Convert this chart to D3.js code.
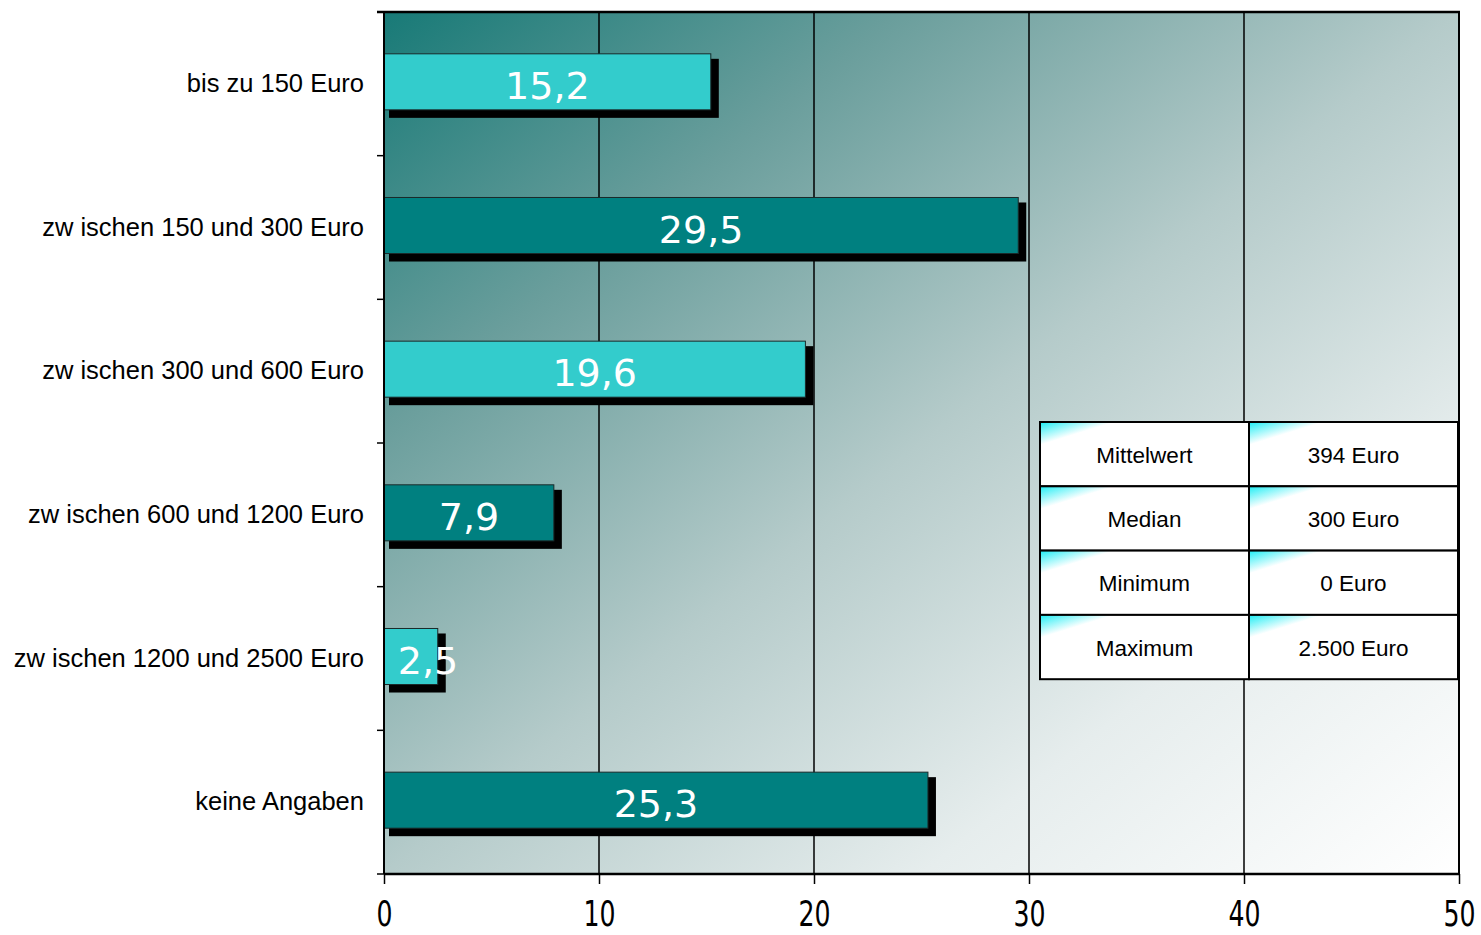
<!DOCTYPE html>
<html>
<head>
<meta charset="utf-8">
<script src="https://cdnjs.cloudflare.com/ajax/libs/d3/7.8.5/d3.min.js"></script>
<style>
  html, body { margin: 0; padding: 0; background: #ffffff; }
  svg { display: block; }
</style>
</head>
<body>
<svg id="chart" width="1481" height="935"></svg>
<script>
// ---- data ----
const categories = [
  "bis zu 150 Euro",
  "zw ischen 150 und 300 Euro",
  "zw ischen 300 und 600 Euro",
  "zw ischen 600 und 1200 Euro",
  "zw ischen 1200 und 2500 Euro",
  "keine Angaben"
];
const values = [15.2, 29.5, 19.6, 7.9, 2.5, 25.3];
const valueLabels = ["15,2", "29,5", "19,6", "7,9", "2,5", "25,3"];
const xTicks = [0, 10, 20, 30, 40, 50];
const statLabels = ["Mittelwert", "Median", "Minimum", "Maximum"];
const statValues = ["394 Euro", "300 Euro", "0 Euro", "2.500 Euro"];

// ---- layout ----
const svg = d3.select("#chart");
const pLeft = 384, pRight = 1459, pTop = 12, pBottom = 874;
const barColors = ["#33CCCC", "#008080"];

const x = d3.scaleLinear().domain([0, 50]).range([pLeft, pRight]);
const y = d3.scaleBand().domain(categories).range([pTop - 2, pBottom - 2]).paddingInner(0.61).paddingOuter(0.305);
const yOuter = d3.scaleBand().domain(categories).range([pTop, pBottom]);

const defs = svg.append("defs");
const bg = defs.append("linearGradient").attr("id", "bg")
  .attr("x1", 0).attr("y1", 0).attr("x2", 1).attr("y2", 1);
[[0, "#187a77"], [0.24, "#6a9e9c"], [0.5, "#b5cbca"], [0.75, "#e6eded"], [1, "#ffffff"]]
  .forEach(([o, c]) => bg.append("stop").attr("offset", o).attr("stop-color", c));

// background
svg.append("rect").attr("x", pLeft).attr("y", pTop)
  .attr("width", pRight - pLeft).attr("height", pBottom - pTop)
  .attr("fill", "url(#bg)");

// gridlines
svg.append("g").selectAll("line").data(xTicks.slice(1, -1)).join("line")
  .attr("x1", d => x(d)).attr("x2", d => x(d))
  .attr("y1", pTop).attr("y2", pBottom)
  .attr("stroke", "#000").attr("stroke-width", 1.5);

// bars
const bars = svg.append("g");
bars.selectAll("rect.shadow").data(values).join("rect")
  .attr("class", "shadow")
  .attr("x", x(0) + 5).attr("y", (d, i) => y(categories[i]) + 5)
  .attr("width", d => x(d) - x(0) + 3).attr("height", y.bandwidth() + 3)
  .attr("fill", "#000");
bars.selectAll("rect.bar").data(values).join("rect")
  .attr("class", "bar")
  .attr("x", x(0)).attr("y", (d, i) => y(categories[i]))
  .attr("width", d => x(d) - x(0)).attr("height", y.bandwidth())
  .attr("fill", (d, i) => barColors[i % 2])
  .attr("stroke", "#1a2a2a").attr("stroke-width", 1);

bars.selectAll("text").data(values).join("text")
  .attr("x", d => Math.max((x(d) + x(0)) / 2, x(0) + 44))
  .attr("y", (d, i) => y(categories[i]) + y.bandwidth() / 2 + 4)
  .attr("dominant-baseline", "central")
  .attr("text-anchor", "middle")
  .attr("font-family", "DejaVu Sans, Verdana, sans-serif")
  .attr("font-size", 38)
  .attr("fill", "#ffffff")
  .text((d, i) => valueLabels[i]);

// frame: top and right
svg.append("line").attr("x1", pLeft - 7).attr("x2", pRight + 1).attr("y1", pTop).attr("y2", pTop)
  .attr("stroke", "#000").attr("stroke-width", 2.5);
svg.append("line").attr("x1", pRight).attr("x2", pRight).attr("y1", pTop).attr("y2", pBottom)
  .attr("stroke", "#000").attr("stroke-width", 2);

// left axis
svg.append("line").attr("x1", pLeft).attr("x2", pLeft).attr("y1", pTop).attr("y2", pBottom)
  .attr("stroke", "#000").attr("stroke-width", 2);
const bounds = categories.map(c => yOuter(c)).concat([pBottom]);
svg.append("g").selectAll("line").data(bounds).join("line")
  .attr("x1", pLeft - 7).attr("x2", pLeft).attr("y1", d => d).attr("y2", d => d)
  .attr("stroke", "#000").attr("stroke-width", 1.5);
svg.append("g").selectAll("text").data(categories).join("text")
  .attr("x", pLeft - 20)
  .attr("y", d => yOuter(d) + yOuter.bandwidth() / 2 - 1)
  .attr("dominant-baseline", "central")
  .attr("text-anchor", "end")
  .attr("font-family", "Liberation Sans, Arial, sans-serif")
  .attr("font-size", 25.5)
  .attr("fill", "#000")
  .text(d => d);

// bottom axis
const xAxis = svg.append("g").attr("transform", `translate(0,${pBottom})`)
  .call(d3.axisBottom(x).tickValues(xTicks).tickSize(10).tickPadding(0).tickFormat(d3.format("d")));
xAxis.select(".domain").attr("stroke", "#000").attr("stroke-width", 2.5)
  .attr("d", `M${pLeft},0H${pRight + 1}`);
xAxis.selectAll(".tick line").attr("stroke", "#000").attr("stroke-width", 1.5);
xAxis.selectAll(".tick text")
  .attr("font-family", "DejaVu Sans, Verdana, sans-serif")
  .attr("font-size", 36)
  .attr("fill", "#000")
  .attr("y", 52)
  .attr("dy", 0)
  .attr("transform", "scale(0.7,1)");

// stats table
const tX = 1040, tY = 422, colW = 209, rowH = 64.3;
const tbl = svg.append("g");
statLabels.forEach((lab, r) => {
  [lab, statValues[r]].forEach((txt, c) => {
    const cx = tX + c * colW, cy = tY + r * rowH;
    const gid = `cell${r}_${c}`;
    const g = defs.append("linearGradient").attr("id", gid)
      .attr("gradientUnits", "userSpaceOnUse")
      .attr("x1", cx).attr("y1", cy).attr("x2", cx + 6.5).attr("y2", cy + 21);
    g.append("stop").attr("offset", 0).attr("stop-color", "#14eef6");
    g.append("stop").attr("offset", 0.15).attr("stop-color", "#3ef0f6");
    g.append("stop").attr("offset", 1).attr("stop-color", "#ffffff");
    tbl.append("rect").attr("x", cx).attr("y", cy).attr("width", colW).attr("height", rowH)
      .attr("fill", `url(#${gid})`).attr("stroke", "#000").attr("stroke-width", 2);
    tbl.append("text").attr("x", cx + colW / 2).attr("y", cy + rowH / 2 + 1)
      .attr("dominant-baseline", "central").attr("text-anchor", "middle")
      .attr("font-family", "Liberation Sans, Arial, sans-serif")
      .attr("font-size", 22.5).attr("fill", "#000").text(txt);
  });
});
</script>
</body>
</html>
